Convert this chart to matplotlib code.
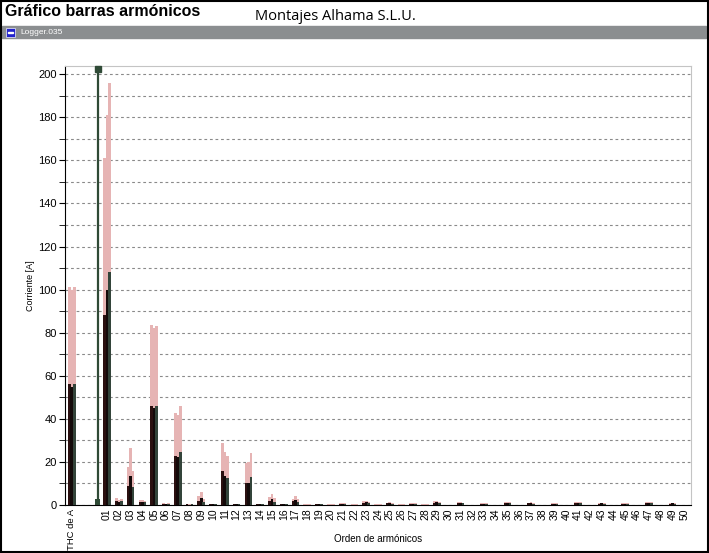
#! /usr/bin/env python3

import matplotlib

matplotlib.use("Agg")
import matplotlib.pyplot as plt
import numpy as np
from matplotlib.patches import Rectangle

# harmonic orders 01..50 plus the THC group on the left
harmonic_labels = [f"{n:02d}" for n in range(1, 51)]
thc_label = "THC de A"

# max current per phase [A]
thc_max = [101.0, 100.0, 101.0]
max_l1 = [161, 3.2, 17.5, 2.2, 83.5, 0.7, 42.5, 0.4, 4.0, 0.6,
          28.6, 0.6, 19.6, 0.6, 3.5, 0.5, 3.0, 0.4, 0.5, 0.3,
          0.8, 0.3, 1.8, 0.3, 1.1, 0.3, 0.9, 0.3, 1.8, 0.2,
          1.2, 0.2, 0.8, 0.2, 1.4, 0.2, 1.1, 0.2, 0.7, 0.2,
          1.3, 0.2, 1.0, 0.2, 0.8, 0.2, 1.3, 0.2, 1.0, 0.2]
max_l2 = [181, 2.4, 26.3, 2.2, 82.0, 0.6, 42.0, 0.3, 6.0, 0.5,
          24.7, 0.5, 19.8, 0.5, 5.1, 0.4, 4.0, 0.3, 0.6, 0.3,
          0.7, 0.3, 2.0, 0.3, 1.2, 0.3, 1.0, 0.3, 2.0, 0.2,
          1.4, 0.2, 0.9, 0.2, 1.6, 0.2, 1.2, 0.2, 0.8, 0.2,
          1.5, 0.2, 1.1, 0.2, 0.9, 0.2, 1.5, 0.2, 1.1, 0.2]
max_l3 = [196, 3.0, 16.0, 1.8, 83.0, 0.7, 46.0, 0.4, 3.0, 0.6,
          22.9, 0.6, 24.0, 0.6, 3.2, 0.5, 2.8, 0.4, 0.5, 0.3,
          0.8, 0.3, 1.5, 0.3, 1.0, 0.3, 0.8, 0.3, 1.6, 0.2,
          1.1, 0.2, 0.7, 0.2, 1.3, 0.2, 1.0, 0.2, 0.7, 0.2,
          1.2, 0.2, 0.9, 0.2, 0.7, 0.2, 1.2, 0.2, 0.9, 0.2]

# average current per phase [A]
thc_avg = [56.0, 55.0, 56.0]
avg_l1 = [88, 1.8, 8.8, 1.4, 46.0, 0.5, 22.9, 0.3, 2.0, 0.4,
          15.8, 0.4, 10.3, 0.4, 1.8, 0.3, 1.8, 0.2, 0.3, 0.2,
          0.5, 0.2, 1.1, 0.2, 0.7, 0.2, 0.5, 0.2, 1.1, 0.1,
          0.8, 0.1, 0.5, 0.1, 0.9, 0.1, 0.7, 0.1, 0.4, 0.1,
          0.8, 0.1, 0.6, 0.1, 0.5, 0.1, 0.8, 0.1, 0.6, 0.1]
avg_l2 = [100, 1.5, 13.4, 1.5, 45.0, 0.4, 22.5, 0.2, 3.4, 0.4,
          13.6, 0.4, 10.3, 0.3, 2.6, 0.3, 2.5, 0.2, 0.4, 0.2,
          0.4, 0.2, 1.3, 0.2, 0.8, 0.2, 0.6, 0.2, 1.3, 0.1,
          0.9, 0.1, 0.5, 0.1, 1.0, 0.1, 0.8, 0.1, 0.5, 0.1,
          0.9, 0.1, 0.7, 0.1, 0.5, 0.1, 0.9, 0.1, 0.7, 0.1]
avg_l3 = [108, 2.0, 8.4, 1.2, 46.0, 0.5, 24.7, 0.3, 1.6, 0.4,
          12.4, 0.4, 13.1, 0.4, 1.5, 0.3, 1.6, 0.2, 0.3, 0.2,
          0.5, 0.2, 0.9, 0.2, 0.6, 0.2, 0.5, 0.2, 1.0, 0.1,
          0.7, 0.1, 0.4, 0.1, 0.8, 0.1, 0.6, 0.1, 0.4, 0.1,
          0.7, 0.1, 0.6, 0.1, 0.4, 0.1, 0.7, 0.1, 0.6, 0.1]

# cursor reading
cursor_pos = 0.2
cursor_value = 3.0

W, H = 709, 553
pink = "#e6b4b4"
dark_colours = ["#2b1010", "#140a0a", "#33443a"]
cursor_colour = "#2f4a36"


def fx(px):
    return px / W


def fy(py):
    return 1 - py / H


def drawHeader(fig):
    fig.text(fx(5), fy(12), "Gráfico barras armónicos", fontsize=11.5,
             fontweight="bold", va="center", ha="left")
    fig.text(fx(335), fy(17), "Montajes Alhama S.L.U.", fontsize=10.5,
             family="Open Sans", va="center", ha="center")
    fig.patches.append(Rectangle((fx(2), fy(38)), fx(704), 12 / H,
                                 transform=fig.transFigure, color="#8b8e90"))
    fig.patches.append(Rectangle((fx(6), fy(37)), fx(9), 9 / H,
                                 transform=fig.transFigure, facecolor="#2222cc",
                                 edgecolor="#d8d8f0", lw=0.6))
    fig.patches.append(Rectangle((fx(8), fy(33)), fx(5), 1.5 / H,
                                 transform=fig.transFigure, color="white"))
    fig.text(fx(20), fy(32), "Logger.035", fontsize=6, color="white",
             va="center", ha="left")
    fig.patches.append(Rectangle((0.001, 0.001), 0.998, 0.998,
                                 transform=fig.transFigure, fill=False,
                                 edgecolor="black", lw=1.5))


def main():
    plt.rcParams["font.family"] = ["Liberation Sans", "DejaVu Sans"]

    fig = plt.figure(figsize=(W / 100, H / 100), dpi=100)
    ax = fig.add_axes([fx(65), fy(505), fx(691 - 65), (505 - 66) / H])

    pos = np.arange(1, 51)
    offsets = [-0.21, 0.0, 0.21]
    width = 0.23
    maxes = [max_l1, max_l2, max_l3]
    avgs = [avg_l1, avg_l2, avg_l3]

    for i, off in enumerate(offsets):
        ax.bar(pos + off, maxes[i], width=width, color=pink, zorder=2)
        ax.bar(-2 + off, thc_max[i], width=width, color=pink, zorder=2)
    for i, off in enumerate(offsets):
        ax.bar(pos + off, avgs[i], width=width, color=dark_colours[i], zorder=3)
        ax.bar(-2 + off, thc_avg[i], width=width, color=dark_colours[i], zorder=3)

    # cursor
    ax.axvline(cursor_pos, color=cursor_colour, lw=1.6, zorder=4)
    ax.bar(cursor_pos, cursor_value, width=0.4, color=cursor_colour, zorder=4)
    ax.plot([cursor_pos], [202.5], marker="s", markersize=4.5,
            color=cursor_colour, clip_on=False, zorder=5)

    ax.set_xlim(-2.57, 50.58)
    ax.set_ylim(0, 203.8)
    ax.set_xticks([-2] + list(pos))
    ax.set_xticklabels([thc_label] + harmonic_labels, rotation=90, fontsize=7.5)
    ax.get_xticklabels()[0].set_fontsize(6.8)
    ax.tick_params(axis="x", length=0, pad=2.5)

    ax.set_yticks(np.arange(0, 201, 20))
    ax.set_yticks(np.arange(10, 200, 20), minor=True)
    ax.tick_params(axis="y", which="both", length=4, labelsize=8, pad=2)
    ax.grid(axis="y", which="both", color="#8a8a8a", lw=0.8,
            linestyle=(0, (2.5, 2.5)), zorder=1)
    ax.set_axisbelow(True)

    for side in ["top", "right"]:
        ax.spines[side].set_color("#c4c4c4")
    for side in ["left", "bottom"]:
        ax.spines[side].set_color("black")

    ax.set_ylabel("Corriente [A]", fontsize=6.5)
    ax.yaxis.set_label_coords(-0.048, 0.5)
    ax.set_xlabel("Orden de armónicos", fontsize=7)
    ax.xaxis.set_label_coords(0.5, -0.065)

    drawHeader(fig)
    fig.savefig("out.png", dpi=100)


if __name__ == "__main__":
    main()
